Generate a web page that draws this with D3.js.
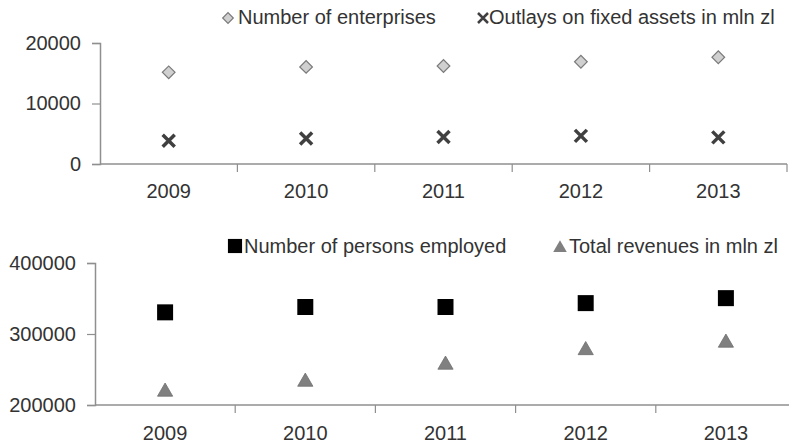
<!DOCTYPE html>
<html>
<head>
<meta charset="utf-8">
<script src="https://cdn.jsdelivr.net/npm/d3@7"></script>
<style>
  body { margin: 0; background: #fff; }
  svg text { font-family: "Liberation Sans", Arial, sans-serif; fill: #333; }
</style>
</head>
<body>
<svg id="chart" width="789" height="446"></svg>
<script>
const svg = d3.select("#chart");

// data
const years = ["2009", "2010", "2011", "2012", "2013"];
const enterprises = [15150, 16050, 16200, 16900, 17650];
const outlays = [3850, 4200, 4450, 4650, 4400];
const employed = [330500, 338000, 338000, 343500, 350500];
const revenues = [220000, 234000, 258000, 278500, 289000];
const topTicks = [0, 10000, 20000];
const bottomTicks = [200000, 300000, 400000];

const axisColor = "#8f8f8f";
const fontSize = 20;

// cross marker path (stroke drawn)
function crossPath(r) {
  return `M${-r},${-r}L${r},${r}M${-r},${r}L${r},${-r}`;
}

// draws the year axis with ticks on the category boundaries
function drawXAxis(g, x, y0, xEnd, labelY) {
  g.append("line")
    .attr("x1", x.range()[0]).attr("x2", xEnd)
    .attr("y1", y0).attr("y2", y0)
    .attr("stroke", axisColor).attr("stroke-width", 1.5);
  const bounds = years.map(d => x(d)).concat([x(years[years.length - 1]) + x.bandwidth()]);
  g.selectAll(".xtick").data(bounds.slice(1)).enter().append("line")
    .attr("x1", d => d).attr("x2", d => d)
    .attr("y1", y0).attr("y2", y0 + 8)
    .attr("stroke", axisColor).attr("stroke-width", 1.2);
  g.selectAll(".xlab").data(years).enter().append("text")
    .attr("x", d => x(d) + x.bandwidth() / 2)
    .attr("y", labelY)
    .attr("text-anchor", "middle")
    .attr("font-size", fontSize)
    .text(d => d);
}

function drawYAxis(g, y, x0, ticks) {
  const axis = d3.axisLeft(y).tickValues(ticks).tickSize(8).tickPadding(11).tickFormat(d3.format("d"));
  const a = g.append("g").attr("transform", `translate(${x0},0)`).call(axis);
  a.select(".domain").attr("stroke", axisColor).attr("stroke-width", 1.5);
  a.selectAll(".tick line").attr("stroke", axisColor).attr("stroke-width", 1.2);
  a.selectAll(".tick text").attr("font-size", fontSize).attr("font-family", "Liberation Sans, Arial, sans-serif").attr("fill", "#333");
}

// ---------- top chart ----------
const gTop = svg.append("g");
const x1 = d3.scaleBand().domain(years).range([100, 787]);
const y1 = d3.scaleLinear().domain([0, 20000]).range([164, 43]);
drawYAxis(gTop, y1, 100, topTicks);
drawXAxis(gTop, x1, 164, 787, 198);

gTop.selectAll(".diamond").data(enterprises).enter().append("path")
  .attr("d", d3.symbol(d3.symbolSquare, 80))
  .attr("transform", (d, i) => `translate(${x1(years[i]) + x1.bandwidth() / 2},${y1(d)}) rotate(45)`)
  .attr("fill", "#d0d0d0").attr("stroke", "#7a7a7a").attr("stroke-width", 1.2);

gTop.selectAll(".cross").data(outlays).enter().append("path")
  .attr("d", crossPath(6))
  .attr("transform", (d, i) => `translate(${x1(years[i]) + x1.bandwidth() / 2},${y1(d)})`)
  .attr("fill", "none").attr("stroke", "#404040").attr("stroke-width", 3.5);

// legend top
gTop.append("path")
  .attr("d", d3.symbol(d3.symbolSquare, 56))
  .attr("transform", "translate(228,18) rotate(45)")
  .attr("fill", "#d0d0d0").attr("stroke", "#7a7a7a").attr("stroke-width", 1.2);
gTop.append("text").attr("x", 238).attr("y", 24).attr("font-size", fontSize).text("Number of enterprises");
gTop.append("path")
  .attr("d", crossPath(5))
  .attr("transform", "translate(483,18)")
  .attr("fill", "none").attr("stroke", "#404040").attr("stroke-width", 2.5);
gTop.append("text").attr("x", 489).attr("y", 24).attr("font-size", fontSize).text("Outlays on fixed assets in mln zl");

// ---------- bottom chart ----------
const gBot = svg.append("g");
const x2 = d3.scaleBand().domain(years).range([95, 796]);
const y2 = d3.scaleLinear().domain([200000, 400000]).range([405, 263]);
drawYAxis(gBot, y2, 95, bottomTicks);
drawXAxis(gBot, x2, 405, 796, 440);

gBot.selectAll(".sq").data(employed).enter().append("path")
  .attr("d", d3.symbol(d3.symbolSquare, 256))
  .attr("transform", (d, i) => `translate(${x2(years[i]) + x2.bandwidth() / 2},${y2(d)})`)
  .attr("fill", "#000");

gBot.selectAll(".tri").data(revenues).enter().append("path")
  .attr("d", d3.symbol(d3.symbolTriangle, 100))
  .attr("transform", (d, i) => `translate(${x2(years[i]) + x2.bandwidth() / 2},${y2(d) + 1})`)
  .attr("fill", "#808080").attr("stroke", "#6e6e6e").attr("stroke-width", 0.8);

// legend bottom
gBot.append("path")
  .attr("d", d3.symbol(d3.symbolSquare, 200))
  .attr("transform", "translate(235,246)")
  .attr("fill", "#000");
gBot.append("text").attr("x", 244).attr("y", 253).attr("font-size", fontSize).text("Number of persons employed");
gBot.append("path")
  .attr("d", d3.symbol(d3.symbolTriangle, 80))
  .attr("transform", "translate(560,248)")
  .attr("fill", "#808080");
gBot.append("text").attr("x", 569).attr("y", 253).attr("font-size", fontSize).text("Total revenues in mln zl");
</script>
</body>
</html>
